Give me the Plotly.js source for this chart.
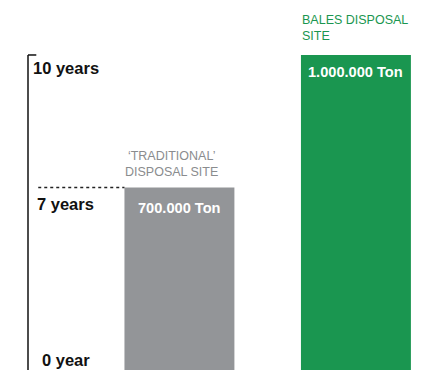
<!DOCTYPE html>
<html>
<head>
<meta charset="utf-8">
<script src="https://cdn.plot.ly/plotly-3.0.1.min.js"></script>
<style>html,body{margin:0;padding:0;background:#fff;}#chart{width:423px;height:370px;}</style>
</head>
<body>
<div id="chart"></div>
<script>
// ---- data ----
const categories = ['‘TRADITIONAL’<br>DISPOSAL SITE', 'BALES DISPOSAL<br>SITE'];
const years = [7, 10];
const tonLabels = ['700.000 Ton', '1.000.000 Ton'];
const barColors = ['#939598', '#1a9650'];
const titleColors = ['#8a8c8e', '#1a9650'];
const yearTickVals = [10, 7];
const yearTickText = ['10 years', '7 years'];
const bottomLabel = '0 year';

const font = '"Liberation Sans", Arial, sans-serif';

const trace = {
  type: 'bar',
  x: [0, 1],
  y: years,
  width: 0.623,
  marker: {color: barColors, line: {width: 0}},
  hoverinfo: 'skip'
};

const annotations = [];
// value labels inside bars
tonLabels.forEach((t, i) => {
  annotations.push({
    x: i, y: years[i], xref: 'x', yref: 'y',
    text: '<b>' + t + '</b>', showarrow: false,
    xanchor: 'center', yanchor: 'middle', yshift: i === 0 ? -20 : -17,
    font: {family: font, size: 14.6, color: '#ffffff'}
  });
});
// category titles above bars
annotations.push({
  x: 0, y: years[0], xref: 'x', yref: 'y', xshift: -8,
  text: categories[0], showarrow: false, align: 'center',
  xanchor: 'center', yanchor: 'bottom', yshift: 7,
  font: {family: font, size: 12.5, color: titleColors[0]}
});
annotations.push({
  x: 1, y: years[1], xref: 'x', yref: 'y', xshift: -56,
  text: categories[1], showarrow: false, align: 'left',
  xanchor: 'left', yanchor: 'bottom', yshift: 10,
  font: {family: font, size: 12.5, color: titleColors[1]}
});
// year labels
const yShifts = [-13, -16];
const xShifts = [3, 7];
yearTickVals.forEach((v, i) => {
  annotations.push({
    x: 0, y: v, xref: 'paper', yref: 'y',
    text: '<b>' + yearTickText[i] + '</b>', showarrow: false,
    xanchor: 'left', yanchor: 'middle', xshift: xShifts[i], yshift: yShifts[i],
    font: {family: font, size: 16.5, color: '#111111'}
  });
});
annotations.push({
  x: 0, y: 0.028, xref: 'paper', yref: 'paper',
  text: '<b>' + bottomLabel + '</b>', showarrow: false,
  xanchor: 'left', yanchor: 'middle', xshift: 12,
  font: {family: font, size: 16.5, color: '#111111'}
});

const yMin = 2.868, yMax = 11.245;
const shapes = [
  {type: 'line', xref: 'paper', yref: 'y', x0: 0, x1: 0, y0: yMin, y1: 10,
   line: {color: '#111', width: 1.5}},
  {type: 'line', xref: 'paper', yref: 'y', x0: 0, x1: 0.021, y0: 10, y1: 10,
   line: {color: '#111', width: 1.5}},
  {type: 'line', xref: 'x', yref: 'y', x0: -0.80, x1: -0.3115, y0: 7, y1: 7,
   line: {color: '#222', width: 1.5, dash: 'dot'}}
];

const layout = {
  width: 423, height: 370,
  margin: {l: 28, r: 0, t: 0, b: 0, pad: 0},
  paper_bgcolor: '#ffffff', plot_bgcolor: '#ffffff',
  showlegend: false,
  xaxis: {range: [-0.858, 1.380], showgrid: false, zeroline: false, showticklabels: false, showline: false, fixedrange: true},
  yaxis: {range: [yMin, yMax], showgrid: false, zeroline: false, showticklabels: false, showline: false, fixedrange: true},
  annotations: annotations,
  shapes: shapes
};

Plotly.newPlot('chart', [trace], layout, {staticPlot: true, displayModeBar: false});
</script>
</body>
</html>
